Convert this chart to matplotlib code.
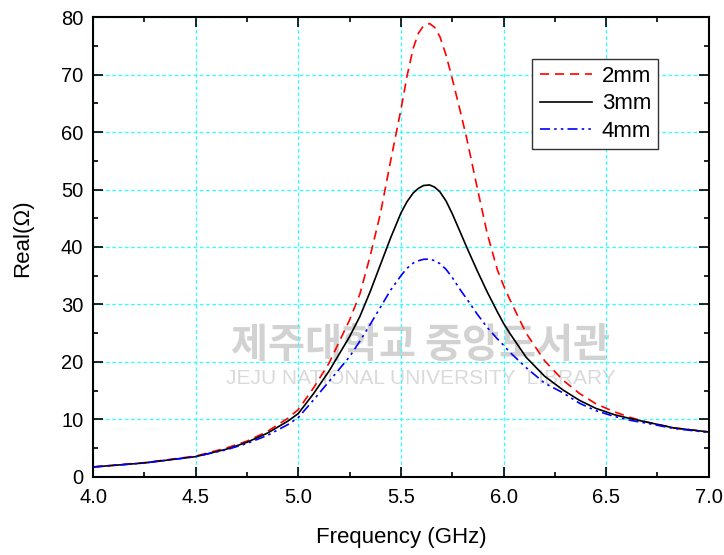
import matplotlib
matplotlib.use("Agg")
import matplotlib.pyplot as plt
from matplotlib.ticker import MultipleLocator

plt.rcParams["font.family"] = ["Liberation Sans", "DejaVu Sans"]

# frequency points (GHz)
freq = [4.0, 4.25, 4.5, 4.65, 4.75, 4.85, 4.95, 5.0, 5.075, 5.15, 5.25, 5.3,
        5.35, 5.4, 5.45, 5.5, 5.53, 5.56, 5.585, 5.61, 5.64, 5.665, 5.69, 5.72,
        5.75, 5.79, 5.82, 5.87, 5.92, 5.97, 6.0, 6.03, 6.11, 6.2, 6.29, 6.37,
        6.45, 6.54, 6.62, 6.7, 6.83, 7.0]

real_2mm = [1.7, 2.45, 3.6, 5.0, 6.2, 7.9, 10.2, 11.7, 15.5, 19.8, 27.3, 31.8,
            38.4, 45.8, 55.0, 63.9, 69.8, 74.6, 77.2, 78.5, 78.9, 78.2, 76.6, 73.4,
            69.3, 63.5, 59.0, 50.6, 42.4, 36.0, 33.3, 30.9, 25.0, 20.2, 16.8, 14.5,
            12.7, 11.3, 10.3, 9.5, 8.5, 7.8]

real_3mm = [1.7, 2.4, 3.5, 4.8, 6.0, 7.6, 9.7, 11.0, 14.5, 18.4, 24.4, 27.9,
            32.2, 36.9, 41.6, 45.9, 47.9, 49.4, 50.2, 50.7, 50.8, 50.4, 49.6, 48.0,
            45.8, 42.5, 40.0, 36.0, 32.2, 28.7, 26.7, 25.0, 20.8, 17.5, 15.1, 13.3,
            11.9, 10.8, 10.1, 9.5, 8.5, 7.8]

real_4mm = [1.7, 2.4, 3.5, 4.7, 5.8, 7.2, 9.1, 10.3, 13.4, 16.6, 20.9, 23.6,
            26.5, 29.5, 32.5, 35.0, 36.3, 37.2, 37.6, 37.85, 37.9, 37.6, 37.1, 36.1,
            34.7, 32.5, 31.0, 28.4, 26.0, 24.0, 22.9, 21.7, 19.0, 16.3, 14.6, 12.8,
            11.5, 10.5, 9.8, 9.3, 8.4, 7.7]

labels = ["2mm", "3mm", "4mm"]

fig = plt.figure(figsize=(7.24, 5.55), dpi=100)
ax = fig.add_axes([0.1285, 0.141, 0.8505, 0.828])

# faint library watermark
ax.text(0.581, 0.378, "제주대학교 중앙도서관", transform=fig.transFigure,
        fontsize=29, family=["Noto Sans CJK KR"], fontweight="bold",
        color="#d2d2d2", ha="center", va="center", zorder=0.5)
ax.text(0.581, 0.318, "JEJU NATIONAL UNIVERSITY  LIBRARY", transform=fig.transFigure,
        fontsize=15, color="#dadada", ha="center", va="center", zorder=0.5)

ax.plot(freq, real_2mm, color="#ff0000", lw=1.2, dashes=(5.5, 3.5), label=labels[0])
ax.plot(freq, real_3mm, color="black", lw=1.2, label=labels[1])
ax.plot(freq, real_4mm, color="#0000ff", lw=1.2,
        dashes=(6, 2.5, 1.5, 2.5, 1.5, 2.5), label=labels[2])

ax.set_xlim(4.0, 7.0)
ax.set_ylim(0, 80)
ax.xaxis.set_major_locator(MultipleLocator(0.5))
ax.xaxis.set_minor_locator(MultipleLocator(0.25))
ax.yaxis.set_major_locator(MultipleLocator(10))
ax.yaxis.set_minor_locator(MultipleLocator(5))
ax.xaxis.set_major_formatter(plt.FormatStrFormatter("%.1f"))

ax.tick_params(which="both", direction="in", top=True, right=True,
               labelsize=14.5, width=1.2)
ax.tick_params(which="major", length=7)
ax.tick_params(which="minor", length=3.5)
ax.tick_params(axis="x", which="major", pad=8)
ax.tick_params(axis="y", which="major", pad=7)
for sp in ax.spines.values():
    sp.set_linewidth(1.5)

ax.grid(True, which="major", color="#33ffff", linestyle=(0, (3, 2)), linewidth=0.9)
ax.set_axisbelow(True)

ax.set_xlabel("Frequency (GHz)", fontsize=16)
ax.set_ylabel("Real(Ω)", fontsize=16)
ax.xaxis.set_label_coords(0.5, -0.11)
ax.yaxis.set_label_coords(-0.114, 0.52)
ax.yaxis.label.set_va("center")

leg = ax.legend(loc="upper right", bbox_to_anchor=(0.918, 0.909), fontsize=16,
                fancybox=False, framealpha=1, edgecolor="#333333",
                handlelength=2.35, handletextpad=0.45, labelspacing=0.28,
                borderpad=0.32, borderaxespad=0)
leg.get_frame().set_linewidth(1.0)

fig.savefig("out.png", dpi=100)
